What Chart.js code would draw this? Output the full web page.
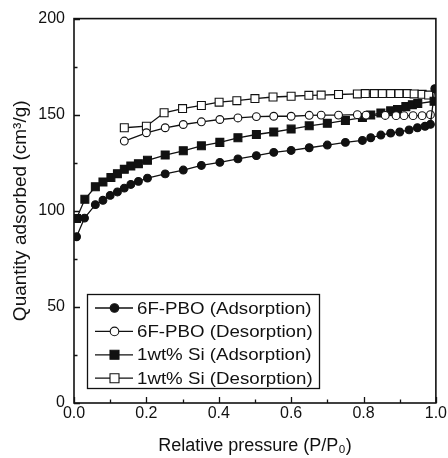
<!DOCTYPE html>
<html>
<head>
<meta charset="utf-8">
<script src="https://cdn.jsdelivr.net/npm/chart.js@4"></script>
<style>
  body { margin: 0; background: #fff; }
  #wrap { width: 448px; height: 458px; }
</style>
</head>
<body>
<div id="wrap"><canvas id="grafico" width="448" height="458"></canvas></div>
<script>
// Datos
const pAdsPBO = [0.007, 0.029, 0.059, 0.08, 0.10, 0.12, 0.139, 0.157, 0.178, 0.203, 0.252, 0.302, 0.352, 0.403, 0.453, 0.504, 0.552, 0.60, 0.65, 0.70, 0.75, 0.797, 0.82, 0.848, 0.875, 0.90, 0.926, 0.949, 0.97, 0.985, 0.997];
const qAdsPBO = [86.5, 96.2, 103.2, 105.5, 108, 109.8, 111.8, 113.7, 115.3, 117, 119.2, 121.2, 123.6, 125.2, 127, 128.7, 130.4, 131.4, 132.8, 134.2, 135.6, 136.6, 138, 139.4, 140.4, 141, 142.1, 143.2, 144, 145, 163.5];

const pDesPBO = [0.139, 0.20, 0.252, 0.302, 0.352, 0.403, 0.453, 0.504, 0.552, 0.60, 0.65, 0.683, 0.731, 0.783, 0.807, 0.86, 0.89, 0.912, 0.937, 0.962, 0.985];
const qDesPBO = [136.3, 140.6, 143.2, 144.9, 146.3, 147.5, 148.3, 149, 149.2, 149.2, 149.7, 149.8, 149.8, 150, 149.8, 149.6, 149.5, 149.5, 149.5, 149.5, 150];

const pAdsSi = [0.007, 0.03, 0.059, 0.08, 0.102, 0.12, 0.139, 0.157, 0.178, 0.203, 0.252, 0.302, 0.352, 0.403, 0.453, 0.504, 0.552, 0.60, 0.65, 0.70, 0.75, 0.797, 0.82, 0.848, 0.875, 0.894, 0.917, 0.935, 0.95, 0.995];
const qAdsSi = [96, 106, 112.5, 115, 117.3, 119.3, 121.6, 123.3, 124.5, 126.3, 129, 131.2, 133.8, 135.6, 138, 139.7, 141, 142.5, 144.2, 145.5, 147, 148.5, 149.8, 150.9, 152, 152.7, 154.2, 155.2, 155.8, 157];

const pDesSi = [0.139, 0.20, 0.249, 0.30, 0.352, 0.401, 0.45, 0.50, 0.55, 0.60, 0.649, 0.683, 0.731, 0.783, 0.805, 0.83, 0.852, 0.875, 0.898, 0.921, 0.94, 0.962, 0.98];
const qDesSi = [143.2, 144, 151, 153.2, 154.8, 156.5, 157.3, 158.4, 159.2, 159.6, 160.1, 160.2, 160.5, 160.8, 161, 161, 161, 161, 161, 161, 160.8, 160.6, 160.2];

const nombres = ["6F-PBO (Adsorption)", "6F-PBO (Desorption)", "1wt% Si (Adsorption)", "1wt% Si (Desorption)"];
const xTicks = [0, 0.2, 0.4, 0.6, 0.8, 1.0];
const yTicks = [0, 50, 100, 150, 200];

const FONT = "'Liberation Sans', Arial, sans-serif";
const NEGRO = "#111";

const pares = (xs, ys) => xs.map((x, i) => ({ x: x, y: ys[i] }));

const serie = (label, data, estilo, relleno) => ({
  label: label,
  data: data,
  borderColor: NEGRO,
  borderWidth: 1.3,
  pointStyle: estilo,
  pointRadius: estilo === "rect" ? 5.6 : 3.9,
  pointBorderWidth: 1.1,
  pointBorderColor: NEGRO,
  pointBackgroundColor: relleno,
  tension: 0,
});

// Marco, marcas hacia dentro y leyenda
const marco = {
  id: "marco",
  afterDraw(chart) {
    const { ctx, chartArea: a } = chart;
    const sx = chart.scales.x, sy = chart.scales.y;
    ctx.save();
    ctx.strokeStyle = NEGRO;
    ctx.lineWidth = 1.6;
    ctx.strokeRect(a.left, a.top, a.right - a.left, a.bottom - a.top);

    ctx.lineWidth = 1.3;
    ctx.beginPath();
    for (let v = 0; v <= 1.0001; v += 0.1) {
      const px = Math.round(sx.getPixelForValue(v)) + 0.5;
      const mayor = Math.round(v * 10) % 2 === 0;
      ctx.moveTo(px, a.bottom);
      ctx.lineTo(px, a.bottom - (mayor ? 6 : 3.5));
    }
    for (let v = 0; v <= 200; v += 25) {
      const py = Math.round(sy.getPixelForValue(v)) + 0.5;
      const mayor = v % 50 === 0;
      ctx.moveTo(a.left, py);
      ctx.lineTo(a.left + (mayor ? 6 : 3.5), py);
    }
    ctx.stroke();

    // Leyenda
    const bx = 87, by = 294, bw = 232, bh = 94;
    ctx.fillStyle = "#fff";
    ctx.fillRect(bx, by, bw, bh);
    ctx.lineWidth = 1.3;
    ctx.strokeRect(bx + 0.5, by + 0.5, bw, bh);
    chart.data.datasets.forEach((ds, i) => {
      const y = 308 + i * 23.4;
      ctx.beginPath();
      ctx.strokeStyle = NEGRO;
      ctx.lineWidth = 1.3;
      ctx.moveTo(95, y);
      ctx.lineTo(133, y);
      ctx.stroke();
      ctx.fillStyle = ds.pointBackgroundColor;
      ctx.lineWidth = 1.1;
      ctx.beginPath();
      if (ds.pointStyle === "rect") {
        ctx.rect(110, y - 4.5, 9, 9);
      } else {
        ctx.arc(114.5, y, 4.3, 0, Math.PI * 2);
      }
      ctx.fill();
      ctx.stroke();
      ctx.save();
      ctx.translate(137, y + 1);
      ctx.scale(1.1, 1);
      ctx.fillStyle = NEGRO;
      ctx.font = "17px " + FONT;
      ctx.textBaseline = "middle";
      ctx.fillText(ds.label, 0, 0);
      ctx.restore();
    });
    ctx.restore();
  },
};

const ctx = document.getElementById("grafico");
const grafico = new Chart(ctx, {
  type: "line",
  data: {
    datasets: [
      serie(nombres[0], pares(pAdsPBO, qAdsPBO), "circle", NEGRO),
      serie(nombres[1], pares(pDesPBO, qDesPBO), "circle", "#fff"),
      serie(nombres[2], pares(pAdsSi, qAdsSi), "rect", NEGRO),
      serie(nombres[3], pares(pDesSi, qDesSi), "rect", "#fff"),
    ],
  },
  options: {
    responsive: false,
    animation: false,
    layout: { padding: { top: 17, right: 11, left: 0, bottom: 0 } },
    plugins: { legend: { display: false }, tooltip: { enabled: false } },
    scales: {
      x: {
        type: "linear",
        min: 0,
        max: 1,
        afterFit: (s) => { s.height = 55; },
        afterBuildTicks: (s) => { s.ticks = xTicks.map((v) => ({ value: v })); },
        grid: { display: false, drawTicks: false },
        border: { display: false },
        ticks: {
          color: NEGRO,
          padding: 1,
          maxRotation: 0,
          font: { family: FONT, size: 16 },
          callback: (v) => v.toFixed(1),
        },
        title: {
          display: true,
          text: "Relative pressure (P/P\u2080)",
          color: NEGRO,
          font: { family: FONT, size: 18 },
          padding: { top: 0, bottom: 1 },
        },
      },
      y: {
        min: 0,
        max: 200,
        afterFit: (s) => { s.width = 74; },
        afterBuildTicks: (s) => { s.ticks = yTicks.map((v) => ({ value: v })); },
        grid: { display: false, drawTicks: false },
        border: { display: false },
        ticks: {
          color: NEGRO,
          padding: 9,
          font: { family: FONT, size: 16 },
        },
        title: {
          display: true,
          text: "Quantity adsorbed (cm\u00b3/g)",
          color: NEGRO,
          font: { family: FONT, size: 19 },
          padding: { top: 9, bottom: 0 },
        },
      },
    },
  },
  plugins: [marco],
});
</script>
</body>
</html>
